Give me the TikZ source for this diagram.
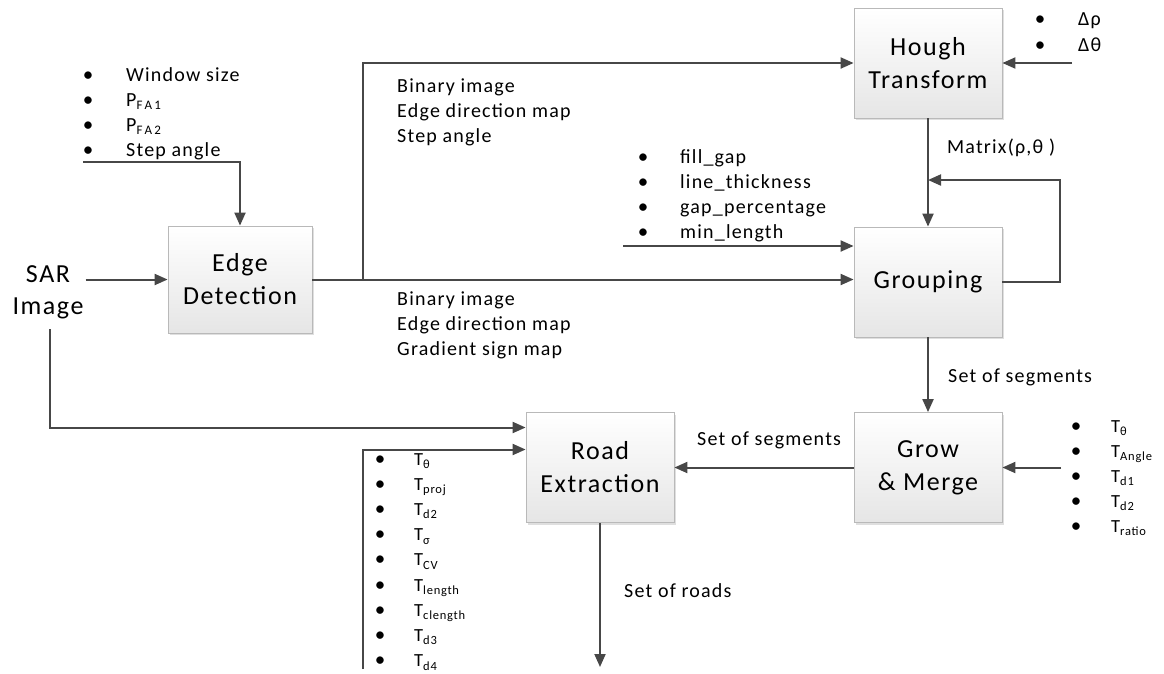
\documentclass[tikz,border=0pt]{standalone}
\usepackage{fontspec}
\setmainfont{Carlito}[LetterSpace=6]
\usetikzlibrary{arrows.meta,shadows}
\newcommand\subx[2][12.5]{\raisebox{-0.4ex}{\fontsize{#1}{#1}\selectfont#2}}
\begin{document}
\begin{tikzpicture}[x=1pt,y=-1pt,
  box/.style={draw=gray!55, line width=0.8pt, top color=white, bottom color=gray!20,
    minimum width=148pt, minimum height=110pt, inner sep=0pt, align=center,
    font=\fontsize{26}{33}\selectfont,
    drop shadow={shadow xshift=2pt, shadow yshift=-2pt, fill=gray!50, opacity=0.5}},
  conn/.style={draw=black!72, line width=2pt, -{Triangle[length=13pt,width=11pt]}},
  lbl/.style={anchor=base west, inner sep=0pt, font=\fontsize{20}{24}\selectfont},
  sml/.style={anchor=base west, inner sep=0pt, font=\fontsize{18.5}{22}\selectfont},
  bul/.style={anchor=base, inner sep=0pt, font=\fontsize{21}{24}\selectfont}]
\useasboundingbox (0,0) rectangle (1164,673);

% blocks
\node[box, minimum width=144pt, minimum height=107pt] (ed) at (240,279.5) {Edge\\Detection};
\node[box] (ht) at (928,63) {Hough\\Transform};
\node[box] (gr) at (928,282) {Grouping};
\node[box] (gm) at (928,467.5) {Grow\\\& Merge};
\node[box] (re) at (600,467.5) {Road\\Extraction};
\node[align=center, inner sep=2pt, font=\fontsize{26}{32}\selectfont] (sar) at (48,292) {SAR\\Image};

% helper coordinates
\coordinate (edp) at (83,162);
\coordinate (br) at (363,279.5);
\coordinate (grp) at (623,246);
\coordinate (lp) at (1060,180);
\coordinate (htp) at (1072,63);
\coordinate (gmp) at (1061,467.5);
\coordinate (reIn1) at ([yshift=40pt]re.west);
\coordinate (reIn2) at ([yshift=18pt]re.west);
\coordinate (rp) at (363,669);
\coordinate (sarb) at (50,329);
\coordinate (out) at (600,667);

% connectors
\draw[conn] (sar.east |- ed.west) -- (ed.west);
\draw[conn] (edp) -| (ed.north);
\draw[conn] (ed.east) -- (ed.east -| gr.west);
\draw[conn] (br) |- (ht.west);
\draw[conn] (htp) -- (ht.east);
\draw[conn] (ht.south) -- (gr.north);
\draw[conn] (grp) -- (grp -| gr.west);
\draw[conn] (gr.east) -| (lp) -- (lp -| ht.south);
\draw[conn] (gr.south) -- (gm.north);
\draw[conn] (gmp) -- (gm.east);
\draw[conn] (gm.west) -- (re.east);
\draw[conn] (sarb) |- (reIn1);
\draw[conn] (rp) |- (reIn2);
\draw[conn] (re.south) -- (out);

% edge detection parameters
\foreach \t [count=\i, evaluate=\i as \yy using 81+25*(\i-1)] in
  {Window size, P\subx[13]{F\,A\,1}, P\subx[13]{F\,A\,2}, Step angle} {
  \node[bul] (eb\i) at (88,\yy) {•};
  \node[lbl] (et\i) at (126,\yy) {\t};
}

% data labels
\foreach \t [count=\i, evaluate=\i as \yy using 92+25*(\i-1)] in
  {Binary image, Edge direction map, Step angle}
  \node[lbl] (ta\i) at (397,\yy) {\t};
\foreach \t [count=\i, evaluate=\i as \yy using 305+25*(\i-1)] in
  {Binary image, Edge direction map, Gradient sign map}
  \node[lbl] (tb\i) at (397,\yy) {\t};

% grouping parameters
\foreach \t [count=\i, evaluate=\i as \yy using 163+25.3*(\i-1)] in
  {fill\_gap, line\_thickness, gap\_percentage, min\_length} {
  \node[bul] (gb\i) at (643,\yy) {•};
  \node[lbl] (gt\i) at (680,\yy) {\t};
}

% hough parameters
\node[bul] (hb1) at (1040,25) {•};
\node[lbl] (ht1) at (1078,25) {Δρ};
\node[bul] (hb2) at (1040,51) {•};
\node[lbl] (ht2) at (1078,51) {Δθ};

\node[lbl] (mtx) at (947,153) {Matrix(ρ,θ )};
\node[lbl] (sos1) at (948,382) {Set of segments};
\node[lbl] (sos2) at (697,445) {Set of segments};
\node[lbl] (sor) at (624,597) {Set of roads};

% grow & merge parameters
\foreach \t [count=\i, evaluate=\i as \yy using 432+25*(\i-1)] in
  {T\subx{θ}, T\subx{Angle}, T\subx{d1}, T\subx{d2}, T\subx{ratio}} {
  \node[bul] (mb\i) at (1076,\yy) {•};
  \node[sml] (mt\i) at (1111,\yy) {\t};
}

% road extraction parameters
\foreach \t [count=\i, evaluate=\i as \yy using 465+25.2*(\i-1)] in
  {T\subx{θ}, T\subx{proj}, T\subx{d2}, T\subx{σ}, T\subx{CV}, T\subx{length},
   T\subx{clength}, T\subx{d3}, T\subx{d4}} {
  \node[bul] (rb\i) at (380,\yy) {•};
  \node[sml] (rt\i) at (414,\yy) {\t};
}
\end{tikzpicture}
\end{document}
